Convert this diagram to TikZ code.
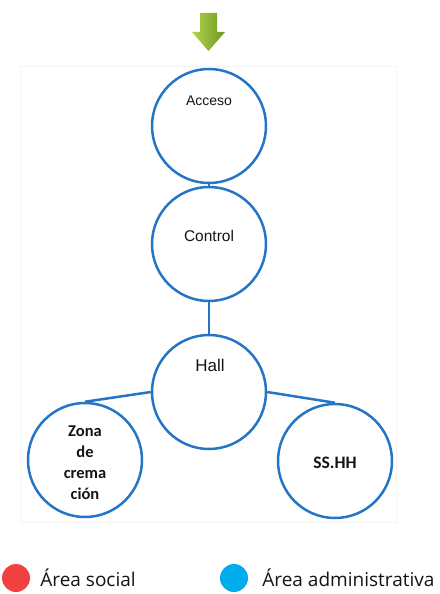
\documentclass[tikz,border=0pt]{standalone}
\usepackage{fontspec}
\setmainfont{Liberation Sans}
\newfontfamily\calibrifont{Carlito}
\newfontfamily\legendfont{Open Sans}
\usetikzlibrary{positioning}
\definecolor{ringblue}{RGB}{36,117,196}
\definecolor{socialred}{RGB}{240,64,64}
\definecolor{adminblue}{RGB}{0,172,236}
\definecolor{arrowlight}{RGB}{180,212,80}
\definecolor{arrowdark}{RGB}{108,152,28}
\definecolor{framegray}{RGB}{244,244,244}

\begin{document}
\begin{tikzpicture}[x=1pt, y=-1pt,
  room/.style={draw=ringblue, line width=2.5pt, circle, minimum size=114pt, inner sep=0pt},
  link/.style={draw=ringblue, line width=2.5pt},
  tag/.style={inner sep=0pt, text=black!92},
  dot/.style={circle, minimum size=28pt, inner sep=0pt}]
  \useasboundingbox (0,0) rectangle (439,594);
  % Faint frame
  \draw[framegray, line width=0.8pt] (20,66) rectangle (396,522);
  % Entry arrow
  \shade[left color=arrowlight, right color=arrowdark] (200,13) -- (217,13) -- (217,32) -- (225,32)
    -- (208.5,51) -- (192,32) -- (200,32) -- cycle;
  % Rooms
  \node[room] (acceso) at (209,126) {};
  \node[room] (control) at (209,244) {};
  \node[room] (hall) at (209,392) {};
  \node[room] (zona) at (85,460) {};
  \node[room] (sshh) at (335,461) {};
  % Links
  \draw[link] (acceso) -- (control);
  \draw[link] (control) -- (hall);
  \draw[link] (hall.west) -- (zona.north);
  \draw[link] (hall.east) -- (sshh.north);
  % Labels
  \node[tag, font=\fontsize{14}{16}\selectfont] (accesotxt) at (209,101) {Acceso};
  \node[tag, font=\fontsize{15.5}{18}\selectfont] (controltxt) at (209,236) {Control};
  \node[tag, font=\fontsize{17}{20}\selectfont] (halltxt) at (210,365) {Hall};
  \node[tag, font=\calibrifont\bfseries\fontsize{16.5}{21}\selectfont, align=center] (zonatxt) at (85,463)
    {Zona\\de\\crema\\ción};
  \node[tag, font=\calibrifont\bfseries\fontsize{17.5}{20}\selectfont] (sshhtxt) at (335,463) {SS.HH};
  % Legend
  \node[dot, fill=socialred] (socialdot) at (16,578) {};
  \node[tag, font=\legendfont\fontsize{19}{22}\selectfont, right=10pt of socialdot] (socialtxt) {Área social};
  \node[dot, fill=adminblue] (admindot) at (234,578) {};
  \node[tag, font=\legendfont\fontsize{19}{22}\selectfont, right=14pt of admindot] (admintxt) {Área administrativa};
\end{tikzpicture}
\end{document}
